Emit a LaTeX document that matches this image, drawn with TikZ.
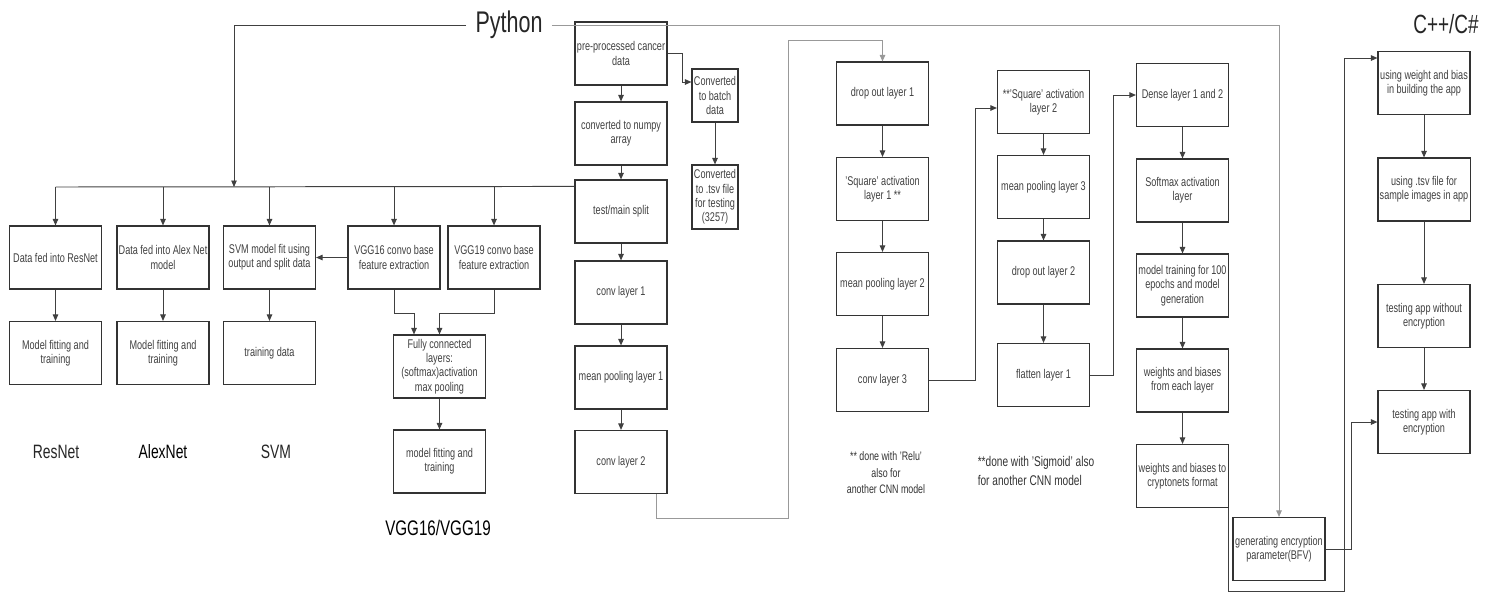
\documentclass[tikz,border=0pt]{standalone}
\usepackage{fontspec}
\setmainfont[FakeStretch=0.72]{Liberation Sans}
\usetikzlibrary{arrows.meta}
\tikzset{%
  box/.style = { draw=black!80, line width=0.65pt, text=black!75, align=center, inner sep=1pt,
                 minimum width=18.4mm, minimum height=12.6mm, font=\fontsize{7.2}{8.2}\selectfont },
  slim/.style = { box, minimum width=9.2mm },
  wire/.style = { draw=black!75, line width=0.55pt },
  flow/.style = { wire, -{Triangle[length=1.3mm,width=1.1mm]} },
  faint/.style = { flow, draw=black!40 },
  lang/.style = { text=black!85, inner sep=0pt },
  note/.style = { text=black!80, align=center, font=\fontsize{7}{9.4}\selectfont }
}

\begin{document}
\begin{tikzpicture}[x=0.2mm, y=-0.2mm]
  \useasboundingbox (0,0) rectangle (1486,592);

  % Headings
  \node[lang, inner xsep=1.8mm, font=\fontsize{17}{20}\selectfont] (python) at (509,25) {Python};
  \node[lang, font=\fontsize{15}{18}\selectfont] (cpp) at (1446,24) {C++/C\#};

  % Models fed from the split
  \node[box] (resFeed)  at (55.5,257.5) {Data fed into ResNet};
  \node[box] (alexFeed) at (163,257.5)  {Data fed into Alex Net\\model};
  \node[box] (svmFit)   at (269.5,257.5) {SVM model fit using\\output and split data};
  \node[box] (vgg16)    at (394,257.5)  {VGG16 convo base\\feature extraction};
  \node[box] (vgg19)    at (494,257.5)  {VGG19 convo base\\feature extraction};

  \node[box] (resFit)   at (55.5,353)   {Model fitting and\\training};
  \node[box] (alexFit)  at (163,353)    {Model fitting and\\training};
  \node[box] (svmTrain) at (269.5,353)  {training data};
  \node[box] (fcLayers) at (439.5,366.5) {Fully connected\\layers:\\(softmax)activation\\max pooling};
  \node[box] (vggFit)   at (439.5,461.5) {model fitting and\\training};

  \node[lang, font=\fontsize{11}{13}\selectfont] (resLbl)  at (56,452)  {ResNet};
  \node[lang, text=black, font=\fontsize{11}{13}\selectfont] (alexLbl) at (163,452) {AlexNet};
  \node[lang, font=\fontsize{11}{13}\selectfont] (svmLbl)  at (276,452) {SVM};
  \node[lang, text=black, font=\fontsize{12}{14}\selectfont] (vggLbl) at (438,528) {VGG16/VGG19};

  % Preprocessing and first CNN block
  \node[box] (pre)   at (621,53.5)  {pre-processed cancer\\data};
  \node[box] (numpy) at (621,133.5) {converted to numpy\\array};
  \node[box] (split) at (621,211.5) {test/main split};
  \node[box] (conv1) at (621,292.5) {conv layer 1};
  \node[box] (pool1) at (621,377.5) {mean pooling layer 1};
  \node[box] (conv2) at (621,462)   {conv layer 2};

  \node[slim, minimum height=10.6mm] (batch) at (715,95.5) {Converted\\to batch\\data};
  \node[slim, minimum height=12.8mm] (tsv)   at (715,197)  {Converted\\to .tsv file\\for testing\\(3257)};

  % Second block
  \node[box] (drop1) at (882.5,93.5) {drop out layer 1};
  \node[box] (sq1)   at (882.5,189)  {'Square' activation\\layer 1 **};
  \node[box] (pool2) at (882.5,284)  {mean pooling layer 2};
  \node[box] (conv3) at (882.5,380)  {conv layer 3};

  \node[note] (reluNote) at (886,473) {** done with 'Relu'\\also for\\another CNN model};

  % Third block
  \node[box] (sq2)   at (1043.5,102)   {**'Square' activation\\layer 2};
  \node[box] (pool3) at (1043.5,187)   {mean pooling layer 3};
  \node[box] (drop2) at (1043.5,272.5) {drop out layer 2};
  \node[box] (flat1) at (1043.5,375)   {flatten layer 1};

  \node[note, align=left, font=\fontsize{8}{10.3}\selectfont] (sigNote) at (1036,471)
    {**done with 'Sigmoid' also\\for another CNN model};

  % Dense part and export
  \node[box] (dense)    at (1182.5,95)    {Dense layer 1 and 2};
  \node[box] (softmax)  at (1182.5,190.5) {Softmax activation\\layer};
  \node[box] (train)    at (1182.5,285.5) {model training for 100\\epochs and model\\generation};
  \node[box] (wbEach)   at (1182.5,380.5) {weights and biases\\from each layer};
  \node[box] (wbCrypto) at (1182.5,476)   {weights and biases to\\cryptonets format};

  \node[box] (encParam) at (1279,549) {generating encryption\\parameter(BFV)};

  % App side
  \node[box] (usingWB)  at (1424,83)    {using weight and bias\\in building the app};
  \node[box] (usingTsv) at (1424,189.5) {using .tsv file for\\sample images in app};
  \node[box] (noEnc)    at (1424,316)   {testing app without\\encryption};
  \node[box] (withEnc)  at (1424,422)   {testing app with\\encryption};

  % Bus from the split to the models
  \coordinate (busL)  at (55.5,187);
  \coordinate (busIn) at (234,187);
  \draw[wire] ([yshift=-1.4mm]split.north west) -- (busL);
  \draw[flow] (python.west) -| (busIn);
  \foreach \n in {resFeed,alexFeed,svmFit,vgg16,vgg19} {
    \draw[flow] (\n.north |- busL) -- (\n.north);
  }

  \foreach \a/\b in {resFeed/resFit, alexFeed/alexFit, svmFit/svmTrain, fcLayers/vggFit, vgg16/svmFit} {
    \draw[flow] (\a) -- (\b);
  }
  \draw[flow] (vgg16.south) -- ++(0,24) -| ([xshift=-5.1mm]fcLayers.north);
  \draw[flow] (vgg19.south) -- ++(0,24) -| (fcLayers.north);

  % Straight chains
  \foreach \a/\b in {pre/numpy, numpy/split, split/conv1, conv1/pool1, pool1/conv2, batch/tsv,
                     drop1/sq1, sq1/pool2, pool2/conv3, sq2/pool3, pool3/drop2, drop2/flat1,
                     dense/softmax, softmax/train, train/wbEach, wbEach/wbCrypto,
                     usingWB/usingTsv, usingTsv/noEnc, noEnc/withEnc} {
    \draw[flow] (\a) -- (\b);
  }

  % Jumps between columns
  \draw[flow] (pre.east) -- ++(15,0) |- ([yshift=2.7mm]batch.west);
  \draw[faint] ([xshift=7mm]conv2.south) -- ++(0,24) -- ++(132,0) |- ([yshift=4.2mm]drop1.north) -- (drop1.north);
  \draw[flow] (conv3.east) -- ++(46,0) |- ([yshift=-1.2mm]sq2.west);
  \draw[flow] (flat1.east) -- ++(23,0) |- (dense.west);
  \draw[faint] (python.east) -| (encParam.north);
  \draw[flow] ([xshift=-0.2mm]wbCrypto.south east) -- ++(0,83) -- ++(116,0) |- ([yshift=5mm]usingWB.west);
  \draw[flow] (encParam.east) -- ++(26,0) |- (withEnc.west);

\end{tikzpicture}
\end{document}
